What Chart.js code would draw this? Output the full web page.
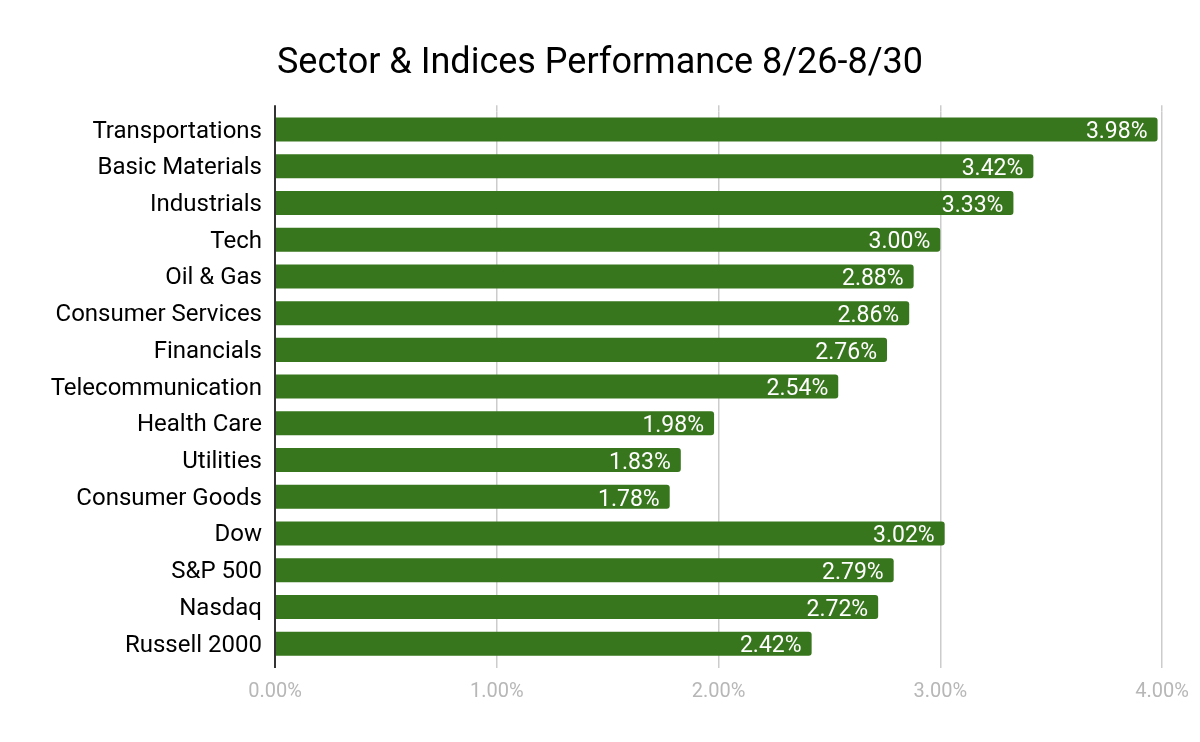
<!DOCTYPE html>
<html lang="en">
<head>
  <meta charset="UTF-8">
  <title>Sector & Indices Performance 8/26-8/30</title>
  <script src="https://cdn.jsdelivr.net/npm/chart.js"></script>
  <style>
    body { margin: 0; background: #fff; }
  </style>
</head>
<body>
  <canvas id="chartCanvas" width="1200" height="742"></canvas>

  <script>
    const categories = [
      "Transportations", "Basic Materials", "Industrials", "Tech", "Oil & Gas",
      "Consumer Services", "Financials", "Telecommunication", "Health Care",
      "Utilities", "Consumer Goods", "Dow", "S&P 500", "Nasdaq", "Russell 2000"
    ];
    const performance = [3.98, 3.42, 3.33, 3.00, 2.88, 2.86, 2.76, 2.54, 1.98, 1.83, 1.78, 3.02, 2.79, 2.72, 2.42];
    const xTicks = [0, 1, 2, 3, 4];

    // white value labels drawn inside the end of each bar
    const barLabels = {
      id: 'barLabels',
      afterDatasetsDraw(chart) {
        const ctx = chart.ctx;
        const meta = chart.getDatasetMeta(0);
        ctx.save();
        ctx.font = '23px Roboto';
        ctx.fillStyle = '#ffffff';
        ctx.textAlign = 'right';
        ctx.textBaseline = 'middle';
        meta.data.forEach((bar, i) => {
          ctx.fillText(performance[i].toFixed(2) + '%', bar.x - 10, bar.y + 3);
        });
        ctx.restore();
      }
    };

    const gridColor = c => c.tick && c.tick.value === 0 ? '#333333' : '#cccccc';
    const gridWidth = c => c.tick && c.tick.value === 0 ? 2 : 1.5;

    const ctx = document.getElementById('chartCanvas').getContext('2d');
    new Chart(ctx, {
      type: 'bar',
      data: {
        labels: categories,
        datasets: [{
          data: performance,
          backgroundColor: '#38761d',
          borderRadius: 3,
          categoryPercentage: 1,
          barPercentage: 0.654
        }]
      },
      options: {
        indexAxis: 'y',
        responsive: false,
        devicePixelRatio: 1,
        animation: false,
        layout: { padding: 0 },
        plugins: {
          legend: { display: false },
          tooltip: { enabled: false },
          title: {
            display: true,
            text: 'Sector & Indices Performance 8/26-8/30',
            color: '#000000',
            font: { family: 'Roboto', size: 36, weight: 'normal' },
            padding: { top: 42, bottom: 20 }
          }
        },
        scales: {
          x: {
            min: 0,
            max: 4,
            afterBuildTicks(scale) {
              scale.ticks = xTicks.map(v => ({ value: v }));
            },
            afterFit(scale) {
              scale.height = 80;
              scale.paddingRight = 38;
            },
            grid: { color: gridColor, lineWidth: gridWidth, drawTicks: true, tickLength: 6 },
            border: { display: false },
            ticks: {
              padding: 12,
              color: '#b7b7b7',
              font: { family: 'Roboto', size: 20 },
              callback: v => v.toFixed(2) + '%'
            }
          },
          // top copy of the value axis: only extends the grid lines above the bars
          xTop: {
            position: 'top',
            axis: 'x',
            min: 0,
            max: 4,
            afterBuildTicks(scale) {
              scale.ticks = xTicks.map(v => ({ value: v }));
            },
            afterFit(scale) {
              scale.height = 6;
              scale.paddingRight = 38;
            },
            grid: { color: gridColor, lineWidth: gridWidth, drawOnChartArea: false, drawTicks: true, tickLength: 6 },
            border: { display: false },
            ticks: { display: false }
          },
          y: {
            afterFit(scale) { scale.width = 275; },
            grid: { display: false, drawTicks: false },
            border: { display: true, color: '#333333', width: 2 },
            ticks: {
              padding: 13,
              labelOffset: 2,
              color: '#000000',
              font: { family: 'Roboto', size: 24 }
            }
          }
        }
      },
      plugins: [barLabels]
    });
  </script>
</body>
</html>
